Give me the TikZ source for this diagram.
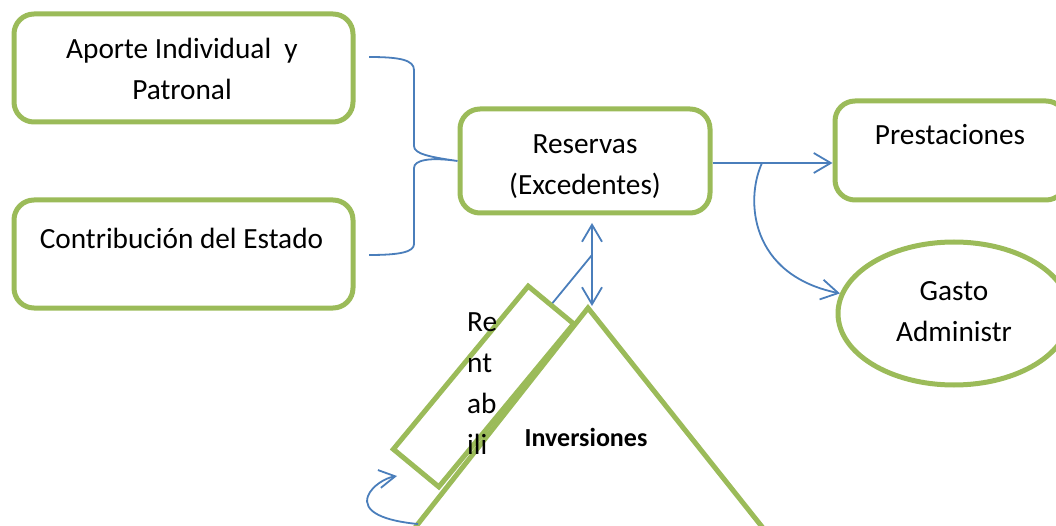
\documentclass[tikz,border=0pt]{standalone}
\usepackage{fontspec}
\setmainfont{Carlito}
\usetikzlibrary{arrows.meta,shapes.geometric}
\definecolor{leaf}{HTML}{9BBB59}
\definecolor{link}{HTML}{4A7EBB}
\begin{document}
\begin{tikzpicture}[x=1pt,y=-1pt,
  box/.style={draw=leaf,line width=5pt,rounded corners=20pt,inner sep=0pt},
  oval/.style={ellipse,draw=leaf,line width=5pt,inner sep=0pt},
  txt/.style={inner sep=0pt,align=center,font=\fontsize{29.3}{41}\selectfont},
  conn/.style={draw=link,line width=1.8pt},
  tip/.style={-{Straight Barb[length=17pt,width=20pt]}},
  tips/.style={{Straight Barb[length=17pt,width=20pt]}-{Straight Barb[length=17pt,width=20pt]}}]

\useasboundingbox (0,0) rectangle (1056,526);
\clip (0,0) rectangle (1056,526);

% boxes
\node[box,minimum width=339pt,minimum height=108pt] (aporte) at (183.5,68) {};
\node[box,minimum width=339pt,minimum height=108pt] (contrib) at (183.5,254) {};
\node[box,minimum width=250pt,minimum height=104pt] (res) at (585,161) {};
\node[box,minimum width=231pt,minimum height=99pt] (pres) at (950.5,150.5) {};
\node[oval,minimum width=232pt,minimum height=143pt] (gasto) at (954,313.5) {};

% labels
\node[txt] (aporte-t) at (182,68.5) {Aporte Individual\ \ y\\Patronal};
\node[txt] (contrib-t) at (181.5,238) {Contribución del Estado};
\node[txt] (res-t) at (585,166.5) {Reservas\\(Excedentes)};
\node[txt] (pres-t) at (950,135) {Prestaciones};
\node[txt] (gasto-t) at (954,311.5) {Gasto\\Administr};

% investments triangle and the tilted yield box
\coordinate (apex) at (588,308);
\draw[leaf,line width=5pt,line join=miter] (apex) -- (388,562) -- (790,562) -- cycle;
\node[draw=leaf,line width=5pt,inner sep=0pt,minimum width=211.6pt,minimum height=59pt,rotate=50.4] (rent) at (483.5,386.5) {};
\node[txt,align=left,anchor=west] (rent-t) at (467,383.5) {Re\\nt\\ab\\ili};
\node[inner sep=0pt,font=\fontsize{26}{30}\selectfont\bfseries] (inv) at (586,437.5) {Inversiones};

% brace joining both contributions into the reserves
\coordinate (b1) at (369,57);
\coordinate (b2) at (369,255);
\draw[conn] (b1) .. controls (400,57) and (414,60) .. (414,70) -- (414,146)
  .. controls (414,154) and (430,157) .. (res.west)
  .. controls (430,157) and (414,160) .. (414,168) -- (414,244)
  .. controls (414,252) and (400,255) .. (b2);

% reserves to benefits and to administration
\coordinate (r0) at ([yshift=-2pt]res.east);
\coordinate (split) at (762,163);
\draw[conn,tip] (r0) -- (r0 -| pres.west);
\draw[conn,tip] (split) .. controls (745,200) and (750,275) .. (gasto.170);

% reserves and investments
\coordinate (vtop) at (592,223);
\coordinate (vbot) at (592,306);
\coordinate (vmid) at (592,255);
\draw[conn,tips] (vtop) -- (vbot);
\draw[conn] (vmid) -- (rent.east);

% loop at the bottom of the yield box
\coordinate (l0) at (418,524);
\coordinate (l1) at (397,476);
\draw[conn,-{Straight Barb[length=16pt,width=18pt]}] (l0) .. controls (385,521) and (362,512) .. (368,496)
  .. controls (372,486) and (385,478) .. (l1);
\end{tikzpicture}
\end{document}
